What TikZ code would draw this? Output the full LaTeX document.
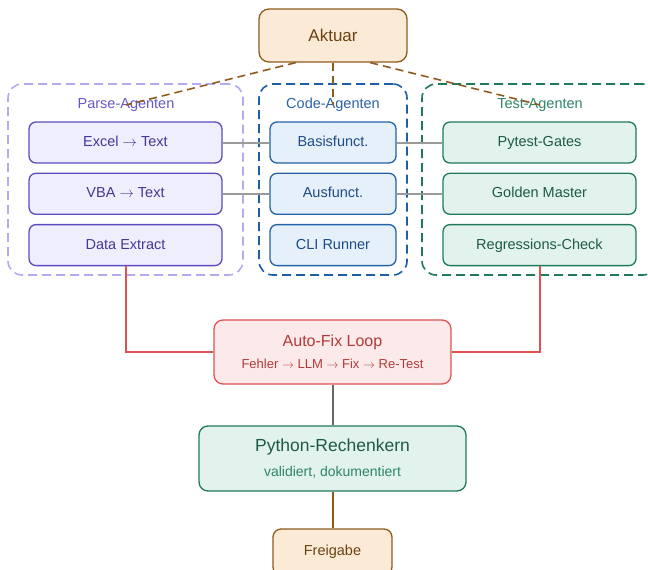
\documentclass[tikz,border=0pt]{standalone}
\usepackage{fontspec}
\setmainfont{Liberation Sans}
\newcommand{\toarrow}{\ensuremath{\rightarrow}}
\usetikzlibrary{positioning,calc}

\definecolor{aktfill}{HTML}{FBEBD6}
\definecolor{aktdraw}{HTML}{8E5B1F}
\definecolor{akttext}{HTML}{6B4210}
\definecolor{parsegroup}{HTML}{B4AAF0}
\definecolor{parselabel}{HTML}{6457C8}
\definecolor{parsefill}{HTML}{EFEEFC}
\definecolor{parsedraw}{HTML}{5A4CC0}
\definecolor{parsetext}{HTML}{433895}
\definecolor{codegroup}{HTML}{1D5EA6}
\definecolor{codelabel}{HTML}{2B63A6}
\definecolor{codefill}{HTML}{E6F0FA}
\definecolor{codedraw}{HTML}{2462A8}
\definecolor{codetext}{HTML}{1F4C85}
\definecolor{testgroup}{HTML}{1F7A5A}
\definecolor{testlabel}{HTML}{2D8665}
\definecolor{testfill}{HTML}{E1F3EC}
\definecolor{testdraw}{HTML}{1F7A5A}
\definecolor{testtext}{HTML}{1E5A45}
\definecolor{fixfill}{HTML}{FCE9E9}
\definecolor{fixdraw}{HTML}{E05252}
\definecolor{fixtext}{HTML}{B33A3A}
\definecolor{linkgray}{HTML}{9A9A9A}
\definecolor{linkdark}{HTML}{666666}

\tikzset{
  box/.style={draw, rounded corners=7pt, line width=1.3pt, inner sep=0pt,
    minimum height=41pt, text height=0.82em, text depth=0pt,
    font=\fontsize{14.5}{16}\selectfont},
  parsebox/.style={box, fill=parsefill, draw=parsedraw, text=parsetext, minimum width=193pt},
  codebox/.style={box, fill=codefill, draw=codedraw, text=codetext, minimum width=126pt},
  testbox/.style={box, fill=testfill, draw=testdraw, text=testtext, minimum width=193pt},
  group/.style={rounded corners=14pt, line width=1.6pt, dash pattern=on 9pt off 5pt,
    minimum height=191pt, inner sep=0pt},
  grouplabel/.style={font=\fontsize{14.5}{16}\selectfont, inner sep=1pt},
  link/.style={draw=linkgray, line width=2pt},
  fixlink/.style={draw=fixdraw, line width=2pt},
}

\begin{document}
\begin{tikzpicture}[x=1pt,y=-1pt]
  \useasboundingbox (0,0) rectangle (648,570);
  % groups behind everything
  \node[group, draw=parsegroup, minimum width=235pt] (parsegrp) at (125.5,179.5) {};
  \node[group, draw=codegroup, minimum width=148pt] (codegrp) at (333,179.5) {};
  \node[group, draw=testgroup, minimum width=235pt] (testgrp) at (539.5,179.5) {};
  \node[grouplabel, text=parselabel] (parselbl) at (126,105) {Parse-Agenten};
  \node[grouplabel, text=codelabel] (codelbl) at (333,105) {Code-Agenten};
  \node[grouplabel, text=testlabel] (testlbl) at (540,105) {Test-Agenten};

  % top node
  \node[draw=aktdraw, fill=aktfill, text=akttext, rounded corners=10pt, line width=1.3pt,
    minimum width=148pt, minimum height=53pt, font=\fontsize{17}{19}\selectfont] (aktuar) at (333,35.5) {Aktuar};
  \coordinate (aktl) at ($(aktuar.south west)!0.25!(aktuar.south east)$);
  \coordinate (aktr) at ($(aktuar.south west)!0.75!(aktuar.south east)$);
  \draw[aktdraw, line width=1.6pt, dash pattern=on 8pt off 5pt] (aktl) -- (parselbl.center);
  \draw[aktdraw, line width=1.6pt, dash pattern=on 8pt off 5pt] (aktuar.south) -- (codelbl.center);
  \draw[aktdraw, line width=1.6pt, dash pattern=on 8pt off 5pt] (aktr) -- (testlbl.center);

  % agent boxes
  \node[parsebox] (excel) at (125.5,142.5) {Excel \toarrow{} Text};
  \node[parsebox, below=9pt of excel] (vba) {VBA \toarrow{} Text};
  \node[parsebox, below=9pt of vba] (extract) {Data Extract};
  \node[codebox] (basis) at (333,142.5) {Basisfunct.};
  \node[codebox, below=9pt of basis] (ausf) {Ausfunct.};
  \node[codebox, below=9pt of ausf] (cli) {CLI Runner};
  \node[testbox] (pytest) at (539.5,142.5) {Pytest-Gates};
  \node[testbox, below=9pt of pytest] (golden) {Golden Master};
  \node[testbox, below=9pt of golden] (regress) {Regressions-Check};

  % rows across the groups
  \draw[link] (excel) -- (basis);
  \draw[link] (basis) -- (pytest);
  \draw[link] (vba) -- (ausf);
  \draw[link] (ausf) -- (golden);

  % auto-fix loop
  \node[draw=fixdraw, fill=fixfill, rounded corners=9pt, line width=1.3pt,
    minimum width=237pt, minimum height=64pt] (autofix) at (332.5,352) {};
  \node[text=fixtext, font=\fontsize{16}{18}\selectfont] (fixtitle) at (332.5,342) {Auto-Fix Loop};
  \node[text=fixtext, font=\fontsize{13}{15}\selectfont] (fixsub) at (332.5,364) {Fehler \toarrow{} LLM \toarrow{} Fix \toarrow{} Re-Test};
  \draw[fixlink] (extract.south) |- (autofix.west);
  \draw[fixlink] (regress.south) |- (autofix.east);

  % result
  \node[draw=testdraw, fill=testfill, rounded corners=9pt, line width=1.3pt,
    minimum width=267pt, minimum height=65pt] (kern) at (332.5,458.5) {};
  \node[text=testtext, font=\fontsize{17.5}{19}\selectfont] (kerntitle) at (332.5,447) {Python-Rechenkern};
  \node[text=testlabel, font=\fontsize{14}{16}\selectfont] (kernsub) at (332.5,472) {validiert, dokumentiert};
  \draw[linkdark, line width=2pt] (autofix) -- (kern);

  \node[draw=aktdraw, fill=aktfill, text=akttext, rounded corners=8pt, line width=1.3pt,
    minimum width=119pt, minimum height=46pt, font=\fontsize{14.5}{16}\selectfont] (freigabe) at (332.5,552) {Freigabe};
  \draw[aktdraw, line width=2pt] (kern) -- (freigabe);
\end{tikzpicture}
\end{document}
